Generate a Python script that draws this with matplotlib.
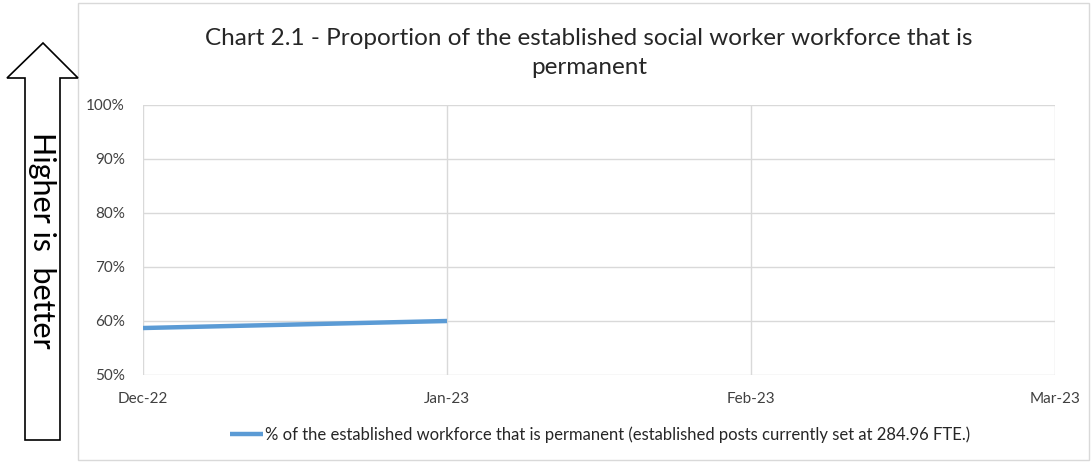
import numpy as np
import matplotlib.pyplot as plt
from matplotlib.patches import Rectangle, Polygon

# data
months = ["Dec-22", "Jan-23", "Feb-23", "Mar-23"]
pct_permanent = [58.7, 60.0]  # only Dec and Jan reported so far
yticks = [50, 60, 70, 80, 90, 100]
series_label = "% of the established workforce that is permanent (established posts currently set at 284.96 FTE.)"
title = "Chart 2.1 - Proportion of the established social worker workforce that is\npermanent"

plt.rcParams['font.family'] = ['Lato', 'DejaVu Sans']
W, H = 1091, 462
fig = plt.figure(figsize=(W/100, H/100), dpi=100)

# chart frame
fig.patches.append(Rectangle((78/W, 2/H), (1089-78)/W, (459-2)/H, transform=fig.transFigure,
                             fill=False, edgecolor='#d9d9d9', lw=1))

ax = fig.add_axes([143/W, 1-375/H, (1055-143)/W, (375-105)/H])
x = np.arange(len(pct_permanent))
ax.plot(x, pct_permanent, color='#5b9bd5', lw=3.2, solid_capstyle='butt', label=series_label)
ax.set_xlim(0, len(months)-1)
ax.set_ylim(50, 100)
ax.set_xticks(range(len(months)))
ax.set_xticklabels(months)
ax.set_yticks(yticks)
ax.set_yticklabels(["%d%%" % v for v in yticks])
ax.grid(True, color='#d9d9d9', lw=1)
ax.set_axisbelow(True)
for s in ax.spines.values():
    s.set_visible(False)
ax.tick_params(length=0, labelsize=11, colors='#404040')
ax.tick_params(axis='y', pad=13)
ax.tick_params(axis='x', pad=12)

fig.text(589/W, 1-53/H, title, ha='center', va='center', fontsize=17.5, color='#262626', linespacing=1.45)
fig.legend(loc='center', bbox_to_anchor=(600/W, 1-435/H), frameon=False, fontsize=12,
           handlelength=2.0, handletextpad=0.1, labelcolor='#262626')

# "Higher is better" arrow
arrow = [(25, 440), (60, 440), (60, 78), (78, 78), (43, 43), (7, 78), (25, 78)]
fig.patches.append(Polygon([(px/W, 1-py/H) for px, py in arrow], closed=True, transform=fig.transFigure,
                           facecolor='white', edgecolor='black', lw=1.2))
fig.text(42/W, 1-240/H, "Higher is  better", rotation=-90, ha='center', va='center', fontsize=22)

fig.savefig("out.png", dpi=100)
